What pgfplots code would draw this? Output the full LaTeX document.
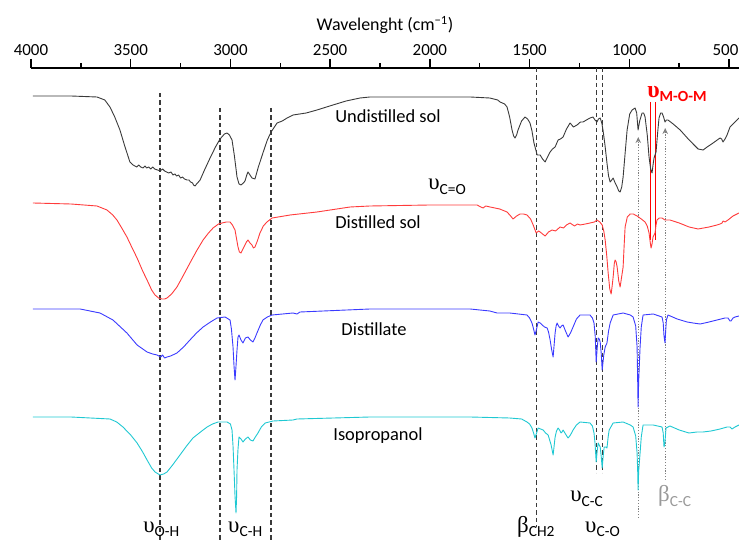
\documentclass[border=0pt]{standalone}
\usepackage{pgfplots}
\pgfplotsset{compat=1.18}
\usepackage{fontspec}
\setmainfont{Carlito}
\newfontfamily\gr{Liberation Serif}
\usetikzlibrary{arrows.meta}

\definecolor{undist}{HTML}{3A3A3A}
\definecolor{dist}{HTML}{FF3B3B}
\definecolor{distte}{HTML}{3B3BFF}
\definecolor{iso}{HTML}{1FC8D2}
\definecolor{guide}{HTML}{3A3A3A}

% band label: large serif greek letter + sans subscript
\newcommand{\band}[2]{{\fontsize{23}{26}\selectfont\gr #1}\raisebox{-4.5bp}{\fontsize{15.5}{18}\selectfont #2}}

\begin{document}
\begin{tikzpicture}
\begin{axis}[
    at={(0,0)}, anchor=south west,
    scale only axis, width=708bp, height=473bp,
    x dir=reverse, xmin=450, xmax=4000, ymin=0, ymax=473,
    axis x line*=top, axis y line=none,
    x axis line style={-, line width=1.6bp},
    xtick={4000,3500,...,500},
    xticklabels={4000,3500,3000,2500,2000,1500,1000,\makebox[1.1em][r]{500}},
    minor xtick={3750,3250,...,750},
    tick align=outside, major tick length=9bp, minor tick length=5bp,
    tick style={black, line width=1.4bp},
    xticklabel style={font=\fontsize{17}{20}\selectfont},
    xlabel={Wavelenght (cm\textsuperscript{−1})},
    xlabel style={font=\fontsize{18}{21}\selectfont, yshift=4bp},
    clip=false,
    every axis plot/.append style={line width=0.9bp, line join=round},
]

% guide lines
\pgfplotsset{guideline/.style={guide, dash pattern=on 4.5bp off 3bp, line width=1.3bp}}
\addplot[guideline] coordinates {(3353,448) (3353,0)};
\addplot[guideline] coordinates {(3052,433) (3052,0)};
\addplot[guideline] coordinates {(2796,433) (2796,0)};
\addplot[guideline] coordinates {(1467,473) (1467,14)};
\addplot[guideline] coordinates {(1163,473) (1163,68)};
\addplot[guideline] coordinates {(1134,473) (1134,68)};
\addplot[gray, dash pattern=on 1.2bp off 1.6bp, line width=1.2bp, -{Stealth[length=6bp,width=5.5bp]}] coordinates {(955,23) (955,404)};
\addplot[gray, dash pattern=on 1.2bp off 1.6bp, line width=1.2bp, -{Stealth[length=6bp,width=5.5bp]}] coordinates {(820,61) (820,413)};
\addplot[red, line width=0.9bp] coordinates {(893,439) (893,301)};
\addplot[red, line width=0.9bp] coordinates {(869,439) (869,301)};

% Undistilled sol
\addplot[undist] coordinates {
(3990,445)(3800,445)(3669,444)(3630,441)(3604,434)(3580,424)(3554,411)(3530,395)
(3504,379)(3488,376)(3470,374)(3460,376)(3450,374)(3438,373)(3428,375)(3420,373)
(3410,374)(3400,372)(3390,374)(3380,372)(3365,371)(3353,370)(3340,372)(3330,370)
(3320,369)(3310,368)(3298,369)(3288,366)(3278,367)(3270,365)(3260,366)(3250,363)
(3240,364)(3230,362)(3218,361)(3208,361)(3200,359)(3190,358)(3185,356)(3177,355)
(3170,357)(3165,358)(3152,361)(3130,371)(3102,383)(3075,394)(3052,402)(3030,407)
(3017,408)(3005,406)(2992,401)(2980,385)(2967,364)(2957,357)(2947,356)(2935,358)
(2927,360)(2918,366)(2912,369)(2902,366)(2892,363)(2877,362)(2860,374)(2837,388)
(2815,401)(2796,409)(2766,418)(2740,420)(2716,423)(2686,426)(2620,428)(2566,431)
(2486,436)(2420,440)(2350,443)(2300,444)(2000,444)(1798,444)(1700,443)(1660,441)
(1648,439)(1625,437)(1613,434)(1600,424)(1588,411)(1580,405)(1573,403)(1565,406)
(1558,411)(1540,420)(1523,424)(1510,422)(1498,418)(1488,410)(1478,398)(1462,386)
(1447,386)(1435,382)(1422,379)(1410,384)(1397,389)(1385,392)(1372,394)(1357,401)
(1345,402)(1332,404)(1315,412)(1297,418)(1280,414)(1262,416)(1245,419)(1232,419)
(1215,421)(1197,423)(1182,424)(1172,421)(1162,419)(1155,422)(1146,423)(1138,418)
(1132,411)(1122,396)(1112,378)(1104,365)(1096,359)(1088,361)(1081,363)(1071,358)
(1061,354)(1053,350)(1046,349)(1038,354)(1031,364)(1020,390)(1011,411)(998,427)
(986,431)(971,433)(963,428)(956,411)(948,420)(936,428)(928,428)(921,424)(910,406)
(901,384)(893,372)(886,368)(881,376)(876,383)(871,386)(866,389)(858,408)(851,423)
(843,428)(836,428)(828,424)(821,419)(814,421)(806,421)(780,417)(745,411)(700,401)
(655,392)(630,391)(610,394)(580,398)(545,403)(537,402)(530,399)(520,402)(510,406)
(495,414)(470,419)(450,423)
};

% Distilled sol
\addplot[dist] coordinates {
(3990,338)(3800,337)(3669,335)(3619,331)(3590,326)(3569,321)(3545,313)(3519,304)
(3495,294)(3468,283)(3440,270)(3418,261)(3395,251)(3378,246)(3360,243)(3343,242)
(3330,242)(3318,243)(3295,247)(3268,254)(3235,266)(3203,278)(3170,290)(3137,301)
(3110,308)(3087,313)(3060,317)(3042,318)(3020,319)(3002,319)(2990,316)(2977,311)
(2970,303)(2962,294)(2955,289)(2947,288)(2937,292)(2927,296)(2920,299)(2912,301)
(2902,298)(2892,296)(2885,293)(2877,294)(2865,300)(2852,308)(2835,315)(2817,319)
(2791,323)(2701,326)(2566,329)(2400,334)(2300,335)(2000,336)(1763,336)(1745,334)
(1733,333)(1720,335)(1698,334)(1650,332)(1613,329)(1595,325)(1583,322)(1565,325)
(1548,327)(1530,327)(1513,326)(1495,322)(1482,316)(1467,308)(1455,310)(1447,309)
(1435,307)(1422,305)(1405,309)(1387,311)(1370,310)(1347,314)(1330,313)(1315,316)
(1297,318)(1275,315)(1260,317)(1247,316)(1220,317)(1197,318)(1175,319)(1162,321)
(1148,319)(1136,316)(1128,310)(1121,301)(1113,285)(1106,268)(1098,252)(1091,247)
(1086,255)(1081,264)(1075,278)(1071,281)(1066,279)(1061,274)(1053,260)(1046,254)
(1040,262)(1031,274)(1026,295)(1021,314)(1010,324)(996,327)(980,327)(961,325)
(940,322)(921,319)(910,315)(901,308)(896,300)(891,293)(886,297)(881,304)(876,306)
(871,308)(866,316)(861,321)(850,323)(836,323)(821,321)(796,321)(750,318)(700,314)
(655,312)(600,314)(560,316)(545,317)(535,318)(530,320)(520,319)(505,321)(480,325)
(450,328)
};

% Distillate
\addplot[distte] coordinates {
(3990,232)(3754,232)(3654,228)(3589,221)(3519,208)(3468,196)(3418,189)(3390,187)
(3368,186)(3350,184)(3340,186)(3330,183)(3318,184)(3300,185)(3268,188)(3235,194)
(3203,201)(3170,208)(3137,214)(3100,219)(3067,223)(3027,224)(3002,221)(2995,212)
(2987,194)(2982,175)(2977,161)(2972,175)(2967,191)(2962,204)(2957,206)(2947,201)
(2937,198)(2925,203)(2912,204)(2900,201)(2887,199)(2877,203)(2867,208)(2850,216)
(2837,221)(2815,224)(2791,226)(2686,228)(2666,227)(2651,229)(2300,232)(1798,232)
(1700,230)(1663,228)(1600,228)(1513,226)(1500,223)(1488,218)(1480,212)(1473,206)
(1465,212)(1457,219)(1447,218)(1437,216)(1425,214)(1412,213)(1405,209)(1397,201)
(1390,192)(1382,184)(1377,196)(1372,208)(1367,215)(1362,218)(1355,215)(1347,213)
(1340,215)(1332,216)(1320,210)(1307,204)(1295,208)(1282,214)(1265,222)(1247,226)
(1197,226)(1185,223)(1177,218)(1171,205)(1166,179)(1161,193)(1156,203)(1151,202)
(1146,199)(1141,188)(1136,171)(1128,186)(1121,194)(1112,198)(1104,210)(1096,218)
(1081,226)(1031,228)(995,226)(981,224)(968,215)(961,194)(958,160)(956,134)
(953,160)(946,194)(940,214)(931,226)(880,227)(836,224)(830,218)(826,205)(821,198)
(817,212)(814,221)(806,226)(760,222)(710,219)(680,218)(645,217)(600,219)(560,221)
(520,223)(505,223)(495,220)(490,220)(480,223)(470,224)(450,225)
};

% Isopropanol
\addplot[iso] coordinates {
(3990,124)(3800,124)(3604,122)(3570,119)(3539,114)(3500,106)(3468,98)(3440,89)
(3418,81)(3395,73)(3378,69)(3353,66)(3335,67)(3318,69)(3290,76)(3253,86)(3220,95)
(3188,103)(3150,109)(3117,114)(3090,117)(3062,119)(3017,119)(3000,117)(2992,111)
(2987,95)(2982,71)(2977,45)(2972,28)(2969,45)(2967,71)(2962,92)(2957,104)(2947,102)
(2937,99)(2925,102)(2912,104)(2900,101)(2887,100)(2875,104)(2862,108)(2845,114)
(2826,118)(2786,120)(2686,121)(2666,122)(2300,124)(1798,124)(1600,123)(1540,122)
(1513,119)(1500,117)(1488,113)(1480,108)(1473,103)(1465,108)(1457,113)(1445,112)
(1432,111)(1420,108)(1407,106)(1398,100)(1392,96)(1386,90)(1382,86)(1377,95)
(1372,104)(1365,110)(1357,113)(1350,111)(1342,108)(1337,109)(1332,111)(1320,107)
(1307,103)(1295,106)(1282,111)(1265,116)(1247,119)(1197,118)(1185,115)(1177,108)
(1172,98)(1166,79)(1161,90)(1156,98)(1151,96)(1146,94)(1141,85)(1136,73)(1131,85)
(1126,94)(1119,94)(1112,93)(1106,104)(1101,111)(1081,118)(1031,119)(995,116)
(981,114)(968,105)(961,88)(958,70)(956,51)(953,70)(946,88)(940,104)(931,116)
(880,116)(836,114)(830,108)(826,94)(821,99)(816,113)(796,115)(750,111)(701,108)
(660,109)(630,109)(590,110)(545,112)(510,114)(495,114)(485,112)(470,114)(450,116)
};

% labels
\node[font=\fontsize{18.5}{21}\selectfont] at (axis cs:2210,425) {Undistilled sol};
\node[font=\fontsize{18.5}{21}\selectfont] at (axis cs:2260,319) {Distilled sol};
\node[font=\fontsize{18.5}{21}\selectfont] at (axis cs:2280,212) {Distillate};
\node[font=\fontsize{18.5}{21}\selectfont] at (axis cs:2260,105) {Isopropanol};

\node[anchor=base west, inner sep=0pt] at (axis cs:3438,9) {\band{υ}{O-H}};
\node[anchor=base west, inner sep=0pt] at (axis cs:3012,9) {\band{υ}{C-H}};
\node[anchor=base west, inner sep=0pt] at (axis cs:1563,9) {\band{β}{CH2}};
\node[anchor=base west, inner sep=0pt] at (axis cs:1297,39) {\band{υ}{C-C}};
\node[anchor=base west, inner sep=0pt] at (axis cs:1222,9) {\band{υ}{C-O}};
\node[anchor=base west, inner sep=0pt, text=gray!80] at (axis cs:856,39) {\band{β}{C-C}};
\node[anchor=base west, inner sep=0pt] at (axis cs:2009,351) {\band{υ}{C=O}};
\node[anchor=base west, inner sep=0pt, text=red] at (axis cs:911,443)
    {{\fontsize{24}{26}\selectfont\gr\bfseries υ}\raisebox{-3.5bp}{\fontsize{15.5}{18}\selectfont\bfseries M-O-M}};

\end{axis}
\pgfresetboundingbox
\path[use as bounding box] (-31bp,0) rectangle (708bp,541bp);
\end{tikzpicture}
\end{document}
